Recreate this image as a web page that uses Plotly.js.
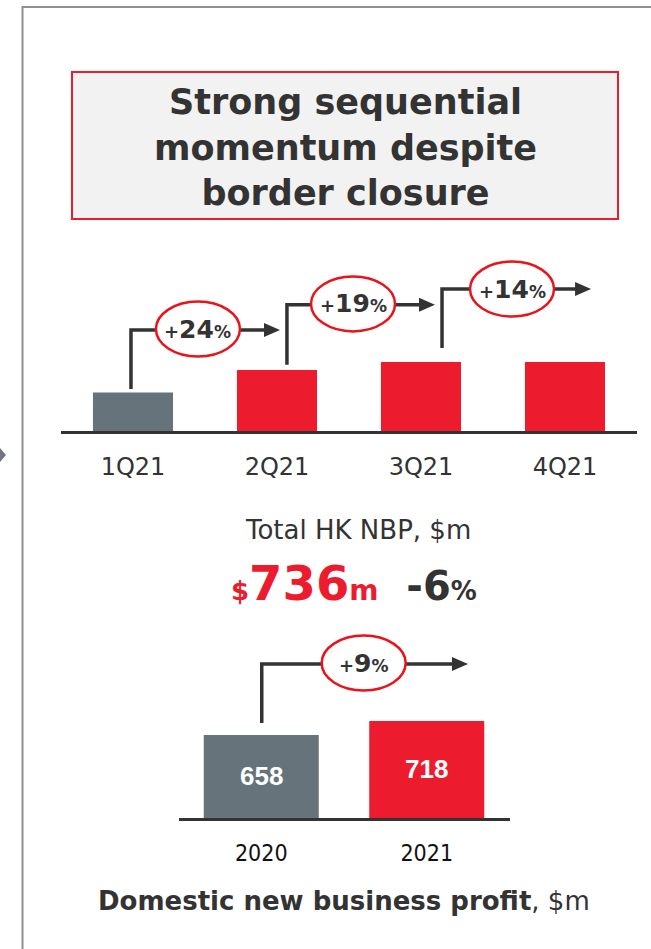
<!DOCTYPE html>
<html>
<head>
<meta charset="utf-8">
<script src="https://cdn.plot.ly/plotly-3.0.1.min.js"></script>
<style>html,body{margin:0;padding:0;background:#fff;}#chart{width:651px;height:949px;}</style>
</head>
<body>
<div id="chart"></div>
<script>
// ---------- data ----------
const quarters = ['1Q21', '2Q21', '3Q21', '4Q21'];
const nbpValues = [119, 189, 214, 214];           // HK NBP by quarter, $m
const qoqGrowth = ['+24', '+19', '+14'];           // sequential growth, %
const totalNBPLabel = 'Total HK NBP, $m';
const totalNBP = '736';
const totalNBPChange = '-6';
const years = ['2020', '2021'];
const domesticNBP = [658, 718];                    // Domestic new business profit, $m
const yoyGrowth = ['+9'];
const titleLines = ['Strong sequential', 'momentum despite', 'border closure'];
const footLabel = 'Domestic new business profit';

// ---------- styles ----------
const W = 651, H = 949;
const RED = '#ec1c2e', GREY = '#67737a', DARK = '#333333', ELL = '#e8131b';
const px = x => x / W;
const py = y => 1 - y / H;

const topColors = quarters.map((q, i) => i === 0 ? GREY : RED);
const botColors = years.map((y, i) => i === 0 ? GREY : RED);

const botMin = 302, botUnit = 4.286;   // bottom value axis starts above zero (as in the original)

const traces = [
  {
    type: 'bar', x: quarters, y: nbpValues, xaxis: 'x', yaxis: 'y',
    width: quarters.map(() => 0.556),
    marker: {color: topColors, line: {width: 0}}, hoverinfo: 'skip', showlegend: false
  },
  {
    type: 'bar', x: years, y: domesticNBP, xaxis: 'x2', yaxis: 'y2',
    width: years.map(() => 0.695),
    marker: {color: botColors, line: {width: 0}},
    hoverinfo: 'skip', showlegend: false
  }
];

// geometry of growth arrows (in axis data units)
const topUnit = 530 / 171;   // y units per pixel in the top chart
const topArrows = [
  {x: -0.014, y0: 130, y1: 313, tip: 1.021},
  {x: 1.069,  y0: 205, y1: 391, tip: 2.097},
  {x: 2.146,  y0: 257, y1: 440, tip: 3.181}
];
const topEllipses = [
  {cx: 0.451, cy: 316},
  {cx: 1.528, cy: 394},
  {cx: 2.632, cy: 440}
];
const botArrows = [{x: 0.003, y0: 709, y1: 962, tip: 1.249}];
const botEllipses = [{cx: 0.619, cy: 966}];

const shapes = [];
const annotations = [];

function addArrow(a, xr, yr, xPerPx, yPerPx) {
  const headLen = 16 * xPerPx, headHalf = 7 * yPerPx;
  shapes.push({
    type: 'path', xref: xr, yref: yr,
    path: `M ${a.x},${a.y0} L ${a.x},${a.y1} L ${a.tip - headLen + 0.01},${a.y1}`,
    line: {color: DARK, width: 3.5}, layer: 'above'
  });
  shapes.push({
    type: 'path', xref: xr, yref: yr,
    path: `M ${a.tip - headLen},${a.y1 - headHalf} L ${a.tip},${a.y1} L ${a.tip - headLen},${a.y1 + headHalf} Z`,
    fillcolor: DARK, line: {color: DARK, width: 0}, layer: 'above'
  });
}
function addEllipse(e, label, xr, yr, xPerPx, yPerPx) {
  const rx = 42 * xPerPx, ry = 27.5 * yPerPx;
  shapes.push({
    type: 'circle', xref: xr, yref: yr,
    x0: e.cx - rx, x1: e.cx + rx, y0: e.cy - ry, y1: e.cy + ry,
    fillcolor: '#ffffff', line: {color: ELL, width: 2.5}, layer: 'above'
  });
  annotations.push({
    xref: xr, yref: yr, x: e.cx, y: e.cy, xanchor: 'center', yanchor: 'middle',
    showarrow: false, font: {color: DARK, family: 'DejaVu Sans'},
    text: `<b><span style="font-size:18px">${label[0]}</span><span style="font-size:25px">${label.slice(1)}</span><span style="font-size:17px">%</span></b>`
  });
}

topArrows.forEach(a => addArrow(a, 'x', 'y', 1 / 144, topUnit));
topEllipses.forEach((e, i) => addEllipse(e, qoqGrowth[i], 'x', 'y', 1 / 144, topUnit));
botArrows.forEach(a => addArrow(a, 'x2', 'y2', 1 / 165.5, botUnit));
botEllipses.forEach((e, i) => addEllipse(e, yoyGrowth[i], 'x2', 'y2', 1 / 165.5, botUnit));

// value labels centred in the visible part of the bottom bars
years.forEach((yr, i) => {
  annotations.push({
    xref: 'x2', yref: 'y2', x: i, y: (botMin + domesticNBP[i]) / 2,
    xanchor: 'center', yanchor: 'middle', showarrow: false,
    text: '<b>' + domesticNBP[i] + '</b>',
    font: {size: 26, color: '#ffffff', family: 'Liberation Sans'}
  });
});

// panel frame
shapes.push({type: 'line', xref: 'paper', yref: 'paper', x0: px(22), x1: px(660), y0: py(7), y1: py(7), line: {color: '#8f8f8f', width: 2}});
shapes.push({type: 'line', xref: 'paper', yref: 'paper', x0: px(22.5), x1: px(22.5), y0: py(6), y1: py(960), line: {color: '#8f8f8f', width: 2}});
shapes.push({type: 'path', xref: 'paper', yref: 'paper',
  path: `M ${px(0)},${py(448)} L ${px(6)},${py(455)} L ${px(0)},${py(462)} Z`,
  fillcolor: '#6f7880', line: {width: 0}});
// title box
shapes.push({type: 'rect', xref: 'paper', yref: 'paper', x0: px(72), x1: px(618), y0: py(72), y1: py(219),
  fillcolor: '#f2f2f2', line: {color: RED, width: 2}, layer: 'below'});

annotations.push({
  xref: 'paper', yref: 'paper', x: px(345), y: py(147), xanchor: 'center', yanchor: 'middle',
  showarrow: false, text: '<b>' + titleLines.join('<br>') + '</b>',
  font: {size: 35, color: DARK, family: 'DejaVu Sans'}
});
annotations.push({
  xref: 'paper', yref: 'paper', x: px(358), y: py(530), xanchor: 'center', yanchor: 'middle',
  showarrow: false, text: totalNBPLabel, font: {size: 26, color: DARK, family: 'DejaVu Sans'}
});
annotations.push({
  xref: 'paper', yref: 'paper', x: px(354), y: py(583), xanchor: 'center', yanchor: 'middle',
  showarrow: false, font: {color: DARK, family: 'DejaVu Sans'},
  text: `<b><span style="color:${RED}"><span style="font-size:26px">$</span><span style="font-size:48px">${totalNBP}</span><span style="font-size:28px">m</span></span><span style="font-size:40px">\u00a0\u00a0${totalNBPChange}</span><span style="font-size:26px">%</span></b>`
});
annotations.push({
  xref: 'paper', yref: 'paper', x: px(344), y: py(901), xanchor: 'center', yanchor: 'middle',
  showarrow: false, font: {size: 26, color: DARK, family: 'DejaVu Sans'},
  text: `<b>${footLabel}</b>, $m`
});

const layout = {
  width: W, height: H,
  margin: {l: 0, r: 0, t: 0, b: 0, pad: 0},
  paper_bgcolor: '#ffffff', plot_bgcolor: 'rgba(0,0,0,0)',
  font: {family: 'DejaVu Sans', color: DARK},
  showlegend: false,
  xaxis: {
    domain: [px(61), px(637)], range: [-0.5, 3.5], type: 'category', anchor: 'y',
    showline: true, linecolor: DARK, linewidth: 3, showgrid: false, zeroline: false,
    ticks: '', ticklabelstandoff: 12, tickfont: {size: 24, color: DARK, family: 'DejaVu Sans'},
    fixedrange: true
  },
  yaxis: {
    domain: [py(431), py(260)], range: [0, 530], anchor: 'x',
    visible: false, showgrid: false, zeroline: false, fixedrange: true
  },
  xaxis2: {
    domain: [px(178.5), px(509.5)], range: [-0.5, 1.5], type: 'category', anchor: 'y2',
    showline: true, linecolor: DARK, linewidth: 3, showgrid: false, zeroline: false,
    ticks: '', ticklabelstandoff: 12, tickfont: {size: 23, color: '#111111', family: 'DejaVu Sans Condensed'},
    fixedrange: true
  },
  yaxis2: {
    domain: [py(818), py(620)], range: [botMin, botMin + 198 * botUnit], anchor: 'x2',
    visible: false, showgrid: false, zeroline: false, fixedrange: true
  },
  shapes: shapes,
  annotations: annotations
};

Plotly.newPlot('chart', traces, layout, {staticPlot: true, displayModeBar: false});
</script>
</body>
</html>
